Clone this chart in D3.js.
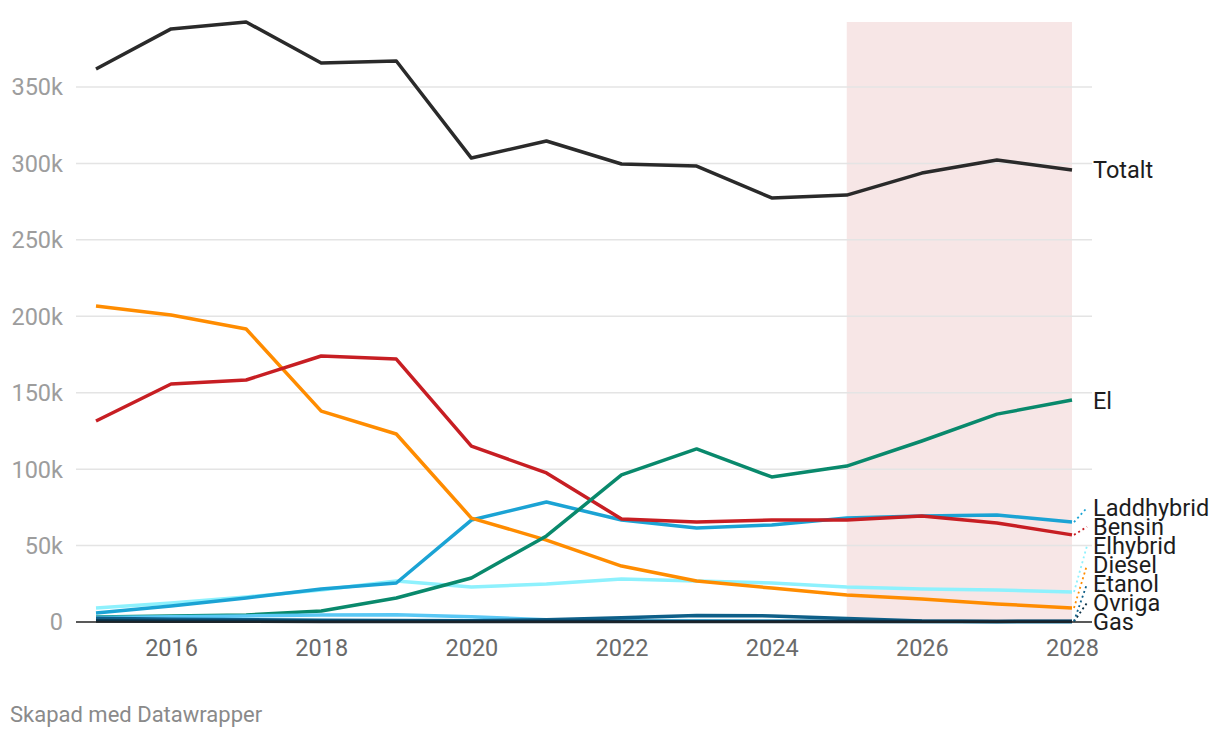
<!DOCTYPE html>
<html>
<head>
<meta charset="utf-8">
<script src="https://d3js.org/d3.v7.min.js"></script>
<style>
  body { margin: 0; background: #fff; }
  svg text { font-family: Roboto, "Noto Sans", sans-serif; }
</style>
</head>
<body>
<script>
// data (antal nyregistrerade bilar per drivmedel)
var years = [2015, 2016, 2017, 2018, 2019, 2020, 2021, 2022, 2023, 2024, 2025, 2026, 2027, 2028];

var totalt     = [361800, 388000, 392500, 365700, 367000, 303500, 314700, 299600, 298300, 277400, 279300, 293700, 302200, 295700];
var el         = [3300, 3900, 4600, 7200, 15700, 28800, 56300, 96200, 113200, 94900, 102000, 118400, 136000, 145200];
var laddhybrid = [5900, 10500, 15700, 21600, 25500, 66700, 78500, 66700, 61500, 63500, 68000, 69300, 70000, 65400];
var bensin     = [131500, 155700, 158300, 174000, 172000, 115000, 97500, 67400, 65400, 66700, 66700, 69300, 64800, 57000];
var elhybrid   = [9200, 12400, 16400, 21000, 26800, 22900, 24900, 28100, 26800, 25500, 22900, 21600, 21000, 19600];
var diesel     = [206700, 200800, 191700, 138000, 123000, 68000, 53600, 36600, 26800, 22200, 17700, 15000, 11800, 9200];
var etanol     = [2500, 1800, 1500, 1200, 1000, 800, 1500, 2800, 4300, 4000, 2300, 700, 400, 500];
var ovriga     = [600, 500, 500, 400, 400, 300, 400, 400, 400, 400, 400, 300, 300, 300];
var gas        = [3000, 3500, 4000, 4500, 4800, 3500, 1500, 1000, 800, 700, 500, 300, 200, 100];

var yTicks = [0, 50000, 100000, 150000, 200000, 250000, 300000, 350000];
var xTicks = [2016, 2018, 2020, 2022, 2024, 2026, 2028];
var forecastStart = 2025, forecastEnd = 2028;

// draw order: first is at the back
var series = [
  { name: "Elhybrid",   values: elhybrid,   color: "#8ef1fd" },
  { name: "Laddhybrid", values: laddhybrid, color: "#1ba3d4" },
  { name: "Diesel",     values: diesel,     color: "#ff8c00" },
  { name: "Bensin",     values: bensin,     color: "#c71e23" },
  { name: "El",         values: el,         color: "#09896c" },
  { name: "Gas",        values: gas,        color: "#5ac8f5" },
  { name: "Etanol",     values: etanol,     color: "#0e5f88" },
  { name: "Övriga",     values: ovriga,     color: "#0b2f45" },
  { name: "Totalt",     values: totalt,     color: "#2a2a2a" }
];

var width = 1220, height = 738;
var fontSize = "23.5px";

var svg = d3.select("body").append("svg")
  .attr("width", width)
  .attr("height", height);

var x = d3.scaleLinear().domain([2015, 2028]).range([96, 1072]);
var y = d3.scaleLinear().domain([0, 350000]).range([622, 87]);

var gridLeft = 76, gridRight = 1092;

// prognos-fält
svg.append("rect")
  .attr("x", x(forecastStart))
  .attr("y", 22)
  .attr("width", x(forecastEnd) - x(forecastStart))
  .attr("height", y(0) - 22)
  .attr("fill", "#f7e6e6");

// y-axel: rutnät + etiketter
var yAxis = svg.append("g");
yAxis.selectAll("line")
  .data(yTicks.filter(function(d) { return d > 0; }))
  .enter().append("line")
  .attr("x1", gridLeft).attr("x2", gridRight)
  .attr("y1", function(d) { return y(d); })
  .attr("y2", function(d) { return y(d); })
  .attr("stroke", "#e4e4e4")
  .attr("stroke-width", 1.5);

yAxis.selectAll("text")
  .data(yTicks)
  .enter().append("text")
  .attr("x", 63)
  .attr("y", function(d) { return y(d); })
  .attr("dy", "0.36em")
  .attr("text-anchor", "end")
  .attr("fill", "#9d9d9d")
  .style("font-size", fontSize)
  .text(function(d) { return d === 0 ? "0" : (d / 1000) + "k"; });

// x-axel
svg.append("g")
  .attr("transform", "translate(0," + y(0) + ")")
  .call(d3.axisBottom(x).tickValues(xTicks).tickFormat(d3.format("d")).tickSize(0).tickPadding(17))
  .call(function(g) { g.select(".domain").remove(); })
  .selectAll("text")
  .attr("fill", "#6a6a6a")
  .style("font-size", fontSize)
  .style("font-family", "Roboto, 'Noto Sans', sans-serif");

// linjer
var line = d3.line()
  .x(function(d, i) { return x(years[i]); })
  .y(function(d) { return y(d); });

svg.append("g").selectAll("path")
  .data(series)
  .enter().append("path")
  .attr("d", function(s) { return line(s.values); })
  .attr("fill", "none")
  .attr("stroke", function(s) { return s.color; })
  .attr("stroke-width", 3.5)
  .attr("stroke-linejoin", "round");

// nollinje
svg.append("line")
  .attr("x1", gridLeft).attr("x2", gridRight)
  .attr("y1", y(0)).attr("y2", y(0))
  .attr("stroke", "#222")
  .attr("stroke-width", 1.6);

// etiketter till höger, staplade nerifrån och upp
var labels = series.map(function(s) {
  var v = s.values[s.values.length - 1];
  return { name: s.name, color: s.color, lineY: y(v), v: v };
}).sort(function(a, b) { return a.v - b.v; });

var gap = 19, prev = y(0) + gap;
labels.forEach(function(l) {
  l.labelY = Math.min(l.lineY, prev - gap);
  prev = l.labelY;
});

var lab = svg.append("g");
lab.selectAll("path")
  .data(labels.filter(function(l) { return Math.abs(l.labelY - l.lineY) > 1; }))
  .enter().append("path")
  .attr("d", function(l) {
    return "M" + (x(2028) + 2) + "," + l.lineY + "L" + 1087 + "," + l.labelY;
  })
  .attr("fill", "none")
  .attr("stroke", function(l) { return l.color; })
  .attr("stroke-width", 1.8)
  .attr("stroke-dasharray", "2,3");

lab.selectAll("text")
  .data(labels)
  .enter().append("text")
  .attr("x", 1093)
  .attr("y", function(l) { return l.labelY; })
  .attr("dy", "0.36em")
  .attr("fill", "#1d1d1d")
  .style("font-size", fontSize)
  .text(function(l) { return l.name; });

// källa
svg.append("text")
  .attr("x", 10)
  .attr("y", 722)
  .attr("fill", "#8a8a8a")
  .style("font-size", "22px")
  .text("Skapad med Datawrapper");
</script>
</body>
</html>
